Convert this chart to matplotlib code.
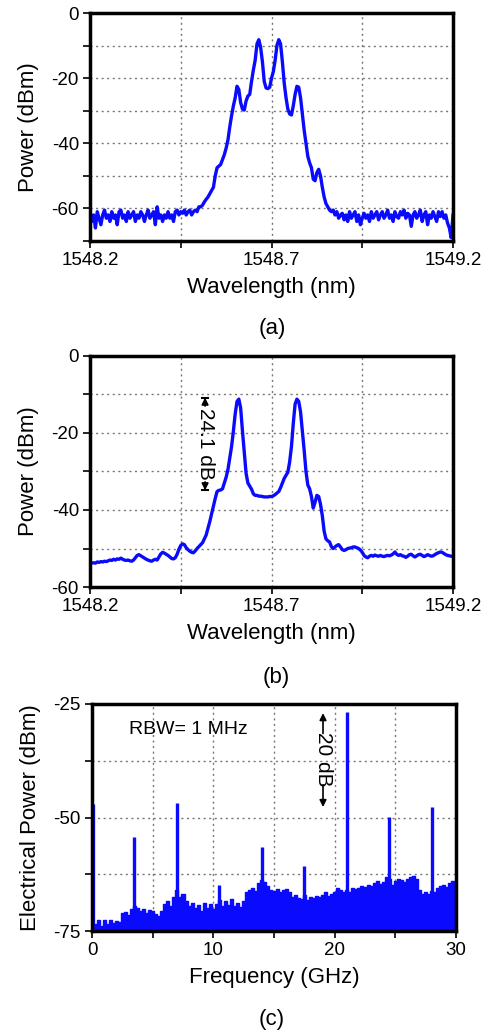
import numpy as np
import matplotlib
matplotlib.use("Agg")
from matplotlib import pyplot as plt
from matplotlib.ticker import MultipleLocator, FixedLocator

plt.rcParams['font.family'] = ['Liberation Sans', 'DejaVu Sans']
plt.rcParams['axes.unicode_minus'] = False

# ---- (a) optical spectrum, 0.005 nm grid from 1548.2 to 1549.2
wl_start, wl_step = 1548.2, 0.005
wl_ticks = [1548.2, 1548.7, 1549.2]
wl_minor = [1548.45, 1548.95]
power_a = [
    -61, -64, -62, -66, -61, -63, -65, -62, -60.5, -63, -62,
    -64, -61, -63, -62, -65, -61, -60.5, -63, -62, -64,
    -61, -63, -62, -61, -64, -62, -63, -61, -62, -64,
    -62, -60.5, -63, -62, -61, -65, -59.5, -63, -62, -64,
    -62, -63, -61, -63, -62, -64, -61, -60.5, -62, -61,
    -61.5, -60.5, -62, -61, -60.5, -62, -61, -60.5, -61, -59.5,
    -59.5, -59, -58, -57.2, -56.5, -55.5, -54.5, -53.5, -50, -47.5,
    -47, -46.5, -45, -43.5, -41.5, -39, -35, -31.5, -28.5, -26,
    -22.5, -23.5, -27.5, -29.5, -29.8, -27, -25.5, -25, -21, -17.5,
    -14.5, -9.5, -8.2, -10.5, -15, -21, -23, -23.2, -22.8, -20,
    -18, -14.5, -10, -8.2, -9.5, -15, -21.5, -26, -29.5, -31,
    -31.3, -28.5, -25, -22.5, -22.8, -26, -31, -36, -40, -44,
    -46, -47.5, -51, -51.5, -49, -48, -50, -53.5, -56.5, -58.5,
    -59.5, -60.5, -61, -60.5, -62, -61, -63, -62, -61.5, -63.5,
    -62, -64, -61, -63, -62, -61, -64, -62, -65, -63,
    -61.5, -63, -62, -64, -61, -63, -62, -61, -63.5, -62,
    -61, -63, -62, -60.5, -63, -62, -64, -61, -62.5, -63,
    -61, -62, -60.5, -63, -61.5, -62, -65.5, -62, -61, -63,
    -62, -60.5, -64, -62, -61, -65, -62, -63, -61, -62.5,
    -64, -61, -62.5, -61, -63, -62, -64.5, -66, -69, -62,
]

# ---- (b) optical spectrum, same grid
power_b = [
    -54.0, -53.8, -53.7, -53.8, -53.5, -53.6, -53.4, -53.5, -53.3, -53.4,
    -53.2, -53.0, -53.1, -52.8, -53.0, -52.7, -52.8, -52.5, -52.8, -53.0,
    -53.1, -53.0, -53.2, -53.3, -53.0, -52.4, -51.8, -51.6, -51.9, -52.2,
    -52.5, -52.8, -53.0, -53.2, -53.3, -53.0, -52.8, -53.0, -52.2, -51.4,
    -51.0, -51.2, -51.5, -51.8, -52.2, -52.6, -52.7, -52.4, -51.5, -50.2,
    -49.2, -48.8, -49.0, -49.8, -50.3, -50.7, -51.0, -51.1, -50.6, -50.0,
    -49.5, -49.0, -48.5, -47.5, -46.5, -44.8, -43.0, -41.0, -39.0, -37.0,
    -35.2, -34.9, -34.8, -34.5, -33.0, -31.5, -29.5, -26.5, -23.5, -19.5,
    -15.0, -11.8, -11.2, -13.5, -19.5, -25.0, -30.5, -33.0, -33.8, -34.6,
    -35.8, -36.2, -36.2, -36.4, -36.4, -36.5, -36.6, -36.6, -36.6, -36.5,
    -36.5, -36.3, -36.0, -35.6, -35.2, -34.2, -33.0, -31.8, -31.0, -30.2,
    -27.5, -23.5, -17.5, -12.5, -11.2, -11.8, -14.5, -19.5, -24.5, -30.0,
    -33.5, -34.5, -36.5, -39.5, -38.0, -36.2, -36.5, -38.5, -41.5, -45.5,
    -47.5, -48.0, -48.3, -49.5, -50.0, -49.6, -49.2, -49.0, -49.6, -50.3,
    -50.5, -50.3, -50.0, -49.9, -49.8, -49.6, -49.6, -49.8, -50.0, -50.4,
    -51.0, -51.8, -52.2, -52.4, -52.0, -51.8, -52.0, -51.7, -51.9, -52.0,
    -51.8, -52.0, -52.1, -51.9, -51.8, -51.9, -51.7, -51.4, -50.9, -51.5,
    -51.8, -51.6, -51.9, -52.0, -52.3, -52.0, -51.6, -51.5, -51.9, -52.2,
    -51.9, -51.6, -51.5, -51.8, -52.1, -51.9, -51.6, -51.8, -52.0, -51.9,
    -51.6, -51.3, -51.1, -50.9, -51.0, -51.3, -51.6, -51.8, -51.9, -52.0,
    -52.1,
]

# ---- (c) RF spectrum: noise floor every 0.25 GHz plus beat-note spikes
rf_step = 0.25
floor_c = [
    -74.5, -73.5, -72.5, -73.8, -72.5, -73.5, -72.6, -73.2, -72.8, -73.0,
    -71.0, -70.8, -71.5, -70.2, -69.5, -70.0, -70.5, -70.2, -71.0, -70.3,
    -70.5, -71.2, -71.8, -70.5, -69.0, -68.5, -69.5, -67.5, -66.0, -67.5,
    -66.8, -68.5, -69.5, -68.8, -70.0, -69.2, -70.5, -68.8, -70.0, -69.0,
    -70.2, -69.0, -68.2, -69.5, -68.5, -69.2, -68.0, -69.5, -68.8, -69.8,
    -68.5, -66.5, -66.0, -65.5, -66.2, -64.5, -63.8, -64.2, -65.0, -66.0,
    -66.2, -65.8, -66.5, -66.0, -65.8, -66.5, -67.5, -67.0, -67.8, -68.0,
    -67.0, -68.2, -67.5, -67.8, -67.2, -67.6, -67.0, -66.5, -67.2, -66.8,
    -66.5, -65.5, -66.0, -66.5, -66.0, -66.3, -65.5, -65.8, -65.5, -65.0,
    -65.2, -64.8, -65.0, -64.5, -64.0, -64.6, -64.2, -63.0, -63.5, -64.8,
    -64.0, -63.5, -63.8, -64.2, -63.5, -63.2, -62.8, -63.5, -66.0, -66.8,
    -66.5, -66.8, -66.2, -66.5, -65.5, -65.0, -64.8, -65.2, -64.5, -64.0,
    -64.8,
]
spike_freq = [0.05, 3.5, 7.0, 10.5, 14.0, 17.5, 21.0, 24.5, 28.0]
spike_power = [-47, -54.3, -46.9, -64.9, -56.5, -60.7, -26.7, -49.9, -47.6]

wl_a = wl_start + wl_step * np.arange(len(power_a))
wl_b = wl_start + wl_step * np.arange(len(power_b))
freq_c = rf_step * np.arange(len(floor_c))

blue = '#0a0aff'
W, H = 498, 1033
fig = plt.figure(figsize=(W / 100, H / 100), dpi=100)


def px_axes(left, top, right, bottom):
    return fig.add_axes([left / W, 1 - bottom / H, (right - left) / W, (bottom - top) / H])


def style(ax):
    for s in ax.spines.values():
        s.set_linewidth(2.5)
    ax.tick_params(which='both', direction='out', length=5, width=1.2,
                   labelsize=13.5, pad=3)
    ax.grid(True, which='both', linestyle=(0, (1.5, 2.5)), color='#777777', linewidth=1)
    ax.set_axisbelow(True)


def wl_axis(ax):
    ax.set_xlim(1548.2, 1549.2)
    ax.xaxis.set_major_locator(FixedLocator(wl_ticks))
    ax.xaxis.set_minor_locator(FixedLocator(wl_minor))
    ax.set_xticklabels([f"{v:.1f}" for v in wl_ticks])
    ax.yaxis.set_major_locator(MultipleLocator(20))
    ax.yaxis.set_minor_locator(MultipleLocator(10))


# (a)
ax1 = px_axes(90, 13, 453, 241)
ax1.plot(wl_a, power_a, color=blue, lw=2.4)
ax1.set_ylim(-70, 0)
wl_axis(ax1)
style(ax1)
ax1.set_xlabel('Wavelength (nm)', fontsize=16, labelpad=6)
ax1.set_ylabel('Power (dBm)', fontsize=16, labelpad=9)
fig.text(272 / W, 1 - 328 / H, '(a)', fontsize=16, ha='center', va='center')

# (b)
ax2 = px_axes(90, 356, 453, 587)
ax2.plot(wl_b, power_b, color=blue, lw=2.4)
ax2.set_ylim(-60, 0)
wl_axis(ax2)
style(ax2)
ax2.set_xlabel('Wavelength (nm)', fontsize=16, labelpad=6)
ax2.set_ylabel('Power (dBm)', fontsize=16, labelpad=9)
fig.text(276 / W, 1 - 677 / H, '(b)', fontsize=16, ha='center', va='center')

xa, ytop, ybot = 1548.517, -10.8, -34.9
ax2.plot([xa - 0.008, xa + 0.008], [ytop, ytop], color='k', lw=1.5)
ax2.plot([xa - 0.008, xa + 0.008], [ybot, ybot], color='k', lw=1.5)
ax2.annotate('', xy=(xa, ytop), xytext=(xa, ytop - 2.2),
             arrowprops=dict(arrowstyle='-|>', color='k', lw=1.2, mutation_scale=10,
                             shrinkA=0, shrinkB=0))
ax2.annotate('', xy=(xa, ybot), xytext=(xa, ybot + 2.2),
             arrowprops=dict(arrowstyle='-|>', color='k', lw=1.2, mutation_scale=10,
                             shrinkA=0, shrinkB=0))
ax2.text(xa, (ytop + ybot) / 2, '24.1 dB', rotation=-90, fontsize=15,
         ha='center', va='center')

# (c)
ax3 = px_axes(92, 704, 456, 931)
ax3.fill_between(freq_c, -75, floor_c, color=blue, lw=0, step='mid')
ax3.step(freq_c, floor_c, where='mid', color=blue, lw=1)
ax3.vlines(spike_freq, -75, spike_power, color=blue, lw=2.4)
ax3.set_xlim(0, 30)
ax3.set_ylim(-75, -25)
ax3.xaxis.set_major_locator(MultipleLocator(10))
ax3.xaxis.set_minor_locator(MultipleLocator(5))
ax3.yaxis.set_major_locator(MultipleLocator(25))
ax3.yaxis.set_minor_locator(MultipleLocator(12.5))
style(ax3)
ax3.set_xlabel('Frequency (GHz)', fontsize=16, labelpad=6)
ax3.set_ylabel('Electrical Power (dBm)', fontsize=16, labelpad=9)
fig.text(272 / W, 1 - 1020 / H, '(c)', fontsize=16, ha='center', va='center')
ax3.text(3.05, -30.7, 'RBW= 1 MHz', fontsize=14, ha='left', va='center')

xc = 19.04
ax3.annotate('', xy=(xc, -27), xytext=(xc, -31.5),
             arrowprops=dict(arrowstyle='-|>', color='k', lw=1.2, mutation_scale=10,
                             shrinkA=0, shrinkB=0))
ax3.annotate('', xy=(xc, -47.7), xytext=(xc, -42.8),
             arrowprops=dict(arrowstyle='-|>', color='k', lw=1.2, mutation_scale=10,
                             shrinkA=0, shrinkB=0))
ax3.text(xc, -37.1, '20 dB', rotation=-90, fontsize=15, ha='center', va='center')

fig.savefig('out.png', dpi=100)
